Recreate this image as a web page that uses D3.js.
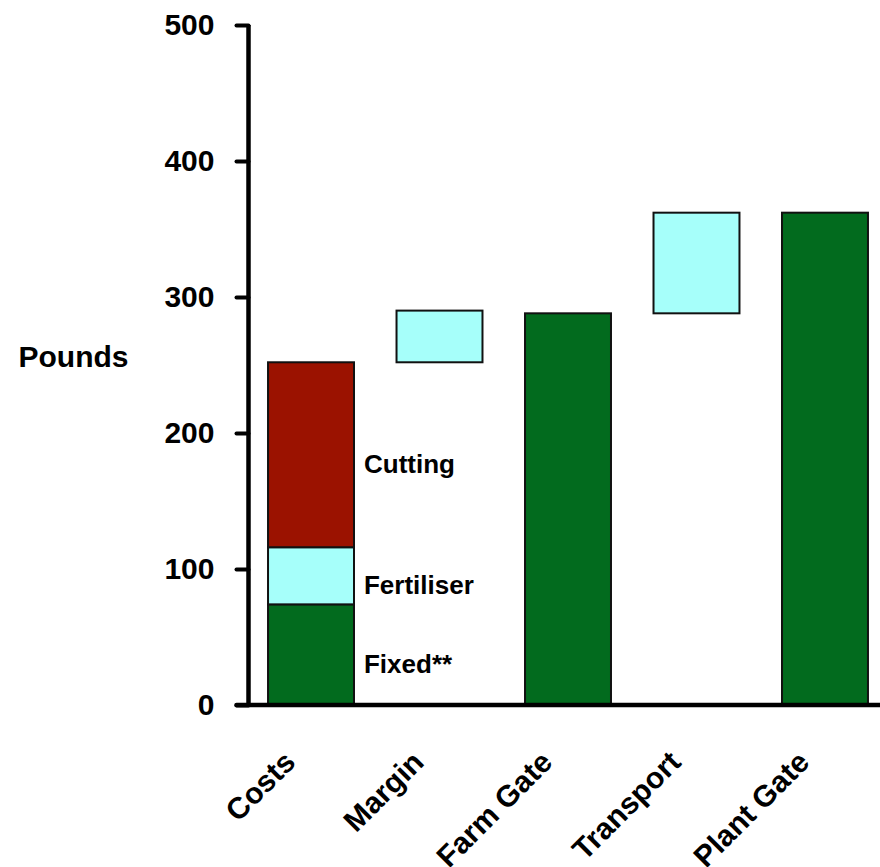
<!DOCTYPE html>
<html>
<head>
<meta charset="utf-8">
<script src="https://cdn.jsdelivr.net/npm/d3@7"></script>
<style>
  html, body { margin: 0; padding: 0; background: #fff; }
  svg { display: block; }
  text { font-family: "Liberation Sans", Arial, Helvetica, sans-serif; font-weight: bold; fill: #000; }
</style>
</head>
<body>
<svg id="chart" width="880" height="867"></svg>
<script>
// Categories along the x axis
const categories = ["Costs", "Margin", "Farm Gate", "Transport", "Plant Gate"];

// Cost build-up (stacked, bottom to top)
const costNames = ["Fixed**", "Fertiliser", "Cutting"];
const costValues = [74, 42, 136];

// Floating / full bars
const marginValue = 38;
const farmGateValue = 288;
const transportValue = 74;
const plantGateValue = 362;

// Axis ticks
const yTicks = [0, 100, 200, 300, 400, 500];
const yLabel = "Pounds";

const colors = { green: "#026B1E", cyan: "#A6FFFA", red: "#9B1200" };
const costColors = [colors.green, colors.cyan, colors.red];

// Build bar rectangles as [category, base, top, color]
const bars = [];
let acc = 0;
costValues.forEach((v, i) => {
  bars.push({ cat: categories[0], name: costNames[i], y0: acc, y1: acc + v, color: costColors[i] });
  acc += v;
});
const costTotal = acc;
bars.push({ cat: categories[1], y0: costTotal, y1: costTotal + marginValue, color: colors.cyan });
bars.push({ cat: categories[2], y0: 0, y1: farmGateValue, color: colors.green });
bars.push({ cat: categories[3], y0: farmGateValue, y1: farmGateValue + transportValue, color: colors.cyan });
bars.push({ cat: categories[4], y0: 0, y1: plantGateValue, color: colors.green });

const svg = d3.select("#chart");
const axisX = 248.5;

const x = d3.scaleBand()
  .domain(categories)
  .range([axisX, 887.5])
  .paddingInner(0.331)
  .paddingOuter(0.152);

const y = d3.scaleLinear().domain([0, 500]).range([705, 25]);

// Bars
svg.append("g")
  .selectAll("rect")
  .data(bars)
  .join("rect")
  .attr("x", d => x(d.cat))
  .attr("y", d => y(d.y1))
  .attr("width", x.bandwidth())
  .attr("height", d => y(d.y0) - y(d.y1))
  .attr("fill", d => d.color)
  .attr("stroke", "#111")
  .attr("stroke-width", 2);

// Segment labels beside the Costs bar
svg.append("g")
  .selectAll("text")
  .data(bars.filter(d => d.name))
  .join("text")
  .attr("x", x(categories[0]) + x.bandwidth() + 10)
  .attr("y", d => y((d.y0 + d.y1) / 2) + 18)
  .style("font-size", "26px")
  .text(d => d.name);

// Y axis
const yAxis = d3.axisLeft(y)
  .tickValues(yTicks)
  .tickSize(12)
  .tickPadding(22);

const gy = svg.append("g")
  .attr("transform", `translate(${axisX},0)`)
  .call(yAxis);
gy.select(".domain").remove();
gy.selectAll(".tick line")
  .attr("stroke", "#000")
  .attr("stroke-width", 4)
  .attr("stroke-linecap", "round");
gy.selectAll(".tick text")
  .style("font-size", "30px")
  .attr("fill", "#000");

// Axis lines
svg.append("line")
  .attr("x1", axisX).attr("x2", axisX)
  .attr("y1", y(500)).attr("y2", y(0))
  .attr("stroke", "#000").attr("stroke-width", 4.5);
svg.append("line")
  .attr("x1", axisX - 12).attr("x2", 880)
  .attr("y1", y(0)).attr("y2", y(0))
  .attr("stroke", "#000").attr("stroke-width", 4.5)
  .attr("stroke-linecap", "round");

// Category labels, rotated
svg.append("g")
  .selectAll("text")
  .data(categories)
  .join("text")
  .attr("transform", d => `translate(${x(d) + x.bandwidth() / 2 - 14},${y(0) + 59}) rotate(-45)`)
  .attr("text-anchor", "end")
  .style("font-size", "30px")
  .text(d => d);

// Y axis title
svg.append("text")
  .attr("x", 73.5)
  .attr("y", 367)
  .attr("text-anchor", "middle")
  .style("font-size", "30px")
  .text(yLabel);
</script>
</body>
</html>
